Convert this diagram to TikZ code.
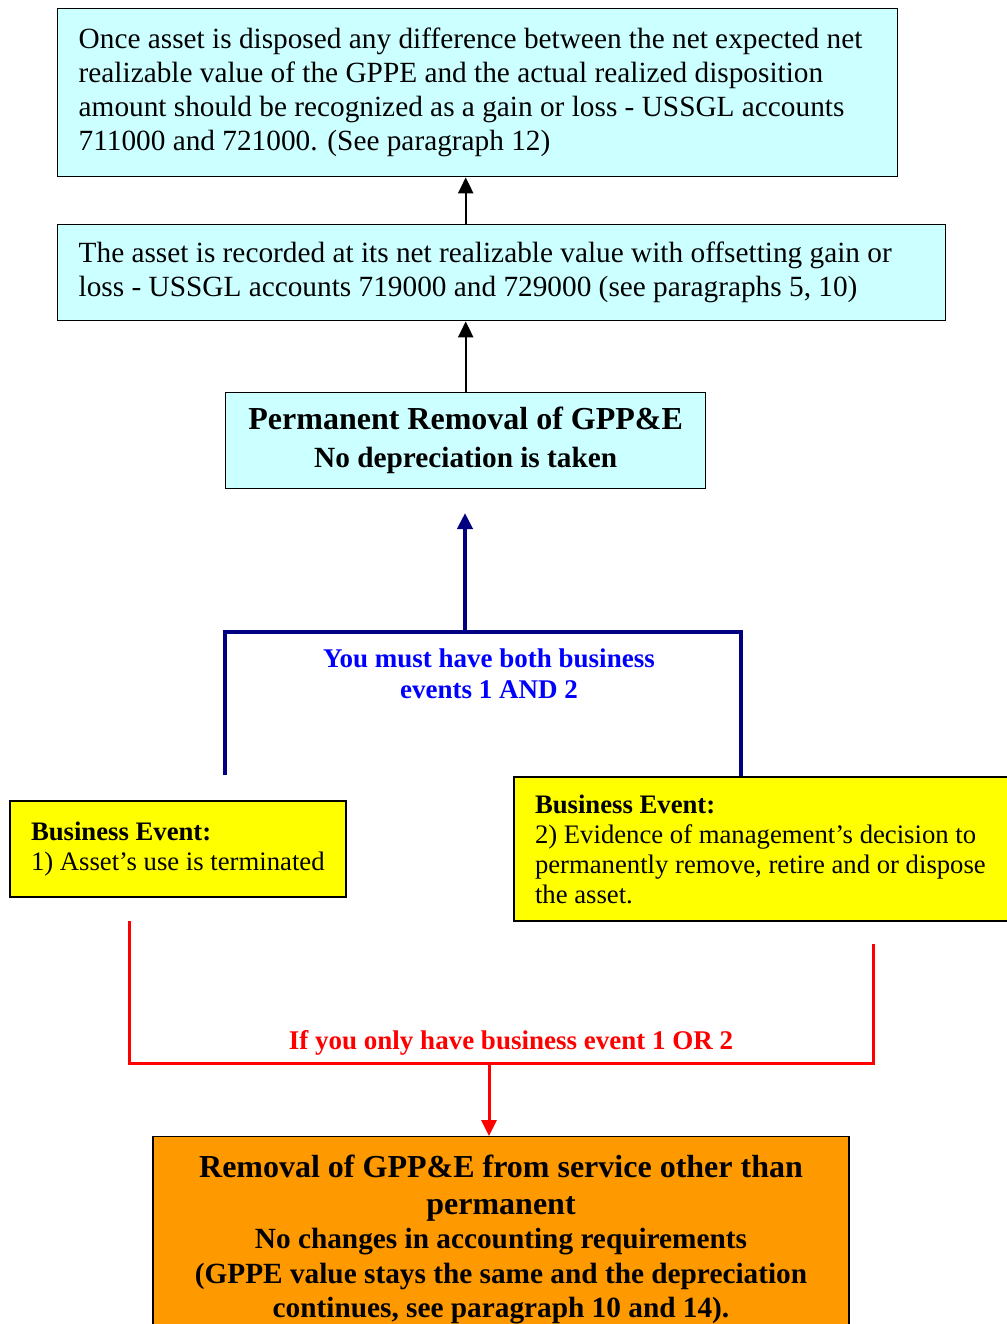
\documentclass[tikz,border=0pt]{standalone}
\usepackage{fontspec}
\setmainfont{Liberation Serif}
\usetikzlibrary{arrows.meta,calc}
\definecolor{boxcyan}{HTML}{CCFFFF}
\definecolor{evyellow}{HTML}{FFFF00}
\definecolor{remorange}{HTML}{FF9900}
\definecolor{navyline}{HTML}{000080}
\definecolor{bluetext}{HTML}{0000FF}
\definecolor{redline}{HTML}{FF0000}
\newcommand\resetsp{\spaceskip=0pt\relax\xspaceskip=0pt\relax}
\newcommand\lefttext{\raggedright\resetsp}
\newcommand\midtext{\centering\resetsp}
\begin{document}
\begin{tikzpicture}[x=1pt,y=-1pt,
  box/.style={draw=black, line width=1.4pt, rectangle, anchor=north west, inner sep=0pt},
  cyanbox/.style={box, fill=boxcyan},
  yelbox/.style={box, fill=evyellow, line width=2pt, font=\fontsize{26.7}{30}\selectfont},
  orbox/.style={box, fill=remorange},
  body/.style={font=\fontsize{29.3}{34}\selectfont},
  blackarrow/.style={line width=2.4pt, -{Triangle[length=16pt,width=15pt]}},
  navyarrow/.style={line width=4pt, draw=navyline, -{Triangle[length=16pt,width=15pt]}},
  navyline/.style={line width=4pt, draw=navyline},
  redline/.style={line width=3pt, draw=redline},
  redarrow/.style={line width=3pt, draw=redline, fill=redline, -{Triangle[length=16pt,width=15pt]}}
]
\useasboundingbox (0,0) rectangle (1006,1324);

\node[cyanbox, body, minimum width=840, minimum height=168, text width=798] (b1) at (57,8)
  {\lefttext Once asset is disposed any difference between the net expected net\\
   realizable value of the GPPE and the actual realized disposition\\
   amount should be recognized as a gain or loss - USSGL accounts\\
   711000 and 721000. (See paragraph 12)\par\vspace{12pt}};

\node[cyanbox, body, minimum width=888, minimum height=96, text width=846] (b2) at (57,224)
  {\lefttext The asset is recorded at its net realizable value with offsetting gain or\\
   loss - USSGL accounts 719000 and 729000 (see paragraphs 5, 10)\par};

\node[cyanbox, minimum width=480, minimum height=96, text width=470] (b3) at (225,392)
  {\midtext{\fontsize{32}{38}\selectfont\bfseries Permanent Removal of GPP\&E\par}
   {\fontsize{29.3}{38}\selectfont\bfseries No depreciation is taken\par}};

\node[yelbox, minimum width=336, minimum height=96, text width=294] (e1) at (9,800)
  {\lefttext\textbf{Business Event:}\\
   1) Asset’s use is terminated\par\vspace{12pt}};

\node[yelbox, minimum width=512, minimum height=144, text width=470] (e2) at (513,776)
  {\lefttext\textbf{Business Event:}\\
   2) Evidence of management’s decision to\\
   permanently remove, retire and or dispose\\
   the asset.\par};

\node[orbox, minimum width=696, text width=680, anchor=north, inner ysep=18pt] (r) at (501,1136)
  {\midtext{\fontsize{32}{37}\selectfont\bfseries Removal of GPP\&E from service other than\\ permanent\par}
   {\fontsize{29.3}{34.5}\selectfont\bfseries No changes in accounting requirements\\
   (GPPE value stays the same and the depreciation\\
   continues, see paragraph 10 and 14).\par}};

% black arrows
\draw[blackarrow] (b2.north -| b3.north) -- (b1.south -| b3.north);
\draw[blackarrow] (b3.north) -- (b3.north |- b2.south);

% navy bracket
\coordinate (nl) at (225,775);
\coordinate (nr) at (741,776);
\coordinate (ntop) at (465,632);
\coordinate (ntip) at (465,513);
\draw[navyline] (nl) -- (nl |- ntop) -- (nr |- ntop) -- (nr);
\draw[navyarrow] (ntop) -- (ntip);
\node[text=bluetext, font=\fontsize{27}{31}\selectfont\bfseries, text width=440] (nlab) at (489,674)
  {\midtext You must have both business\\ events 1 AND 2\par};

% red bracket
\coordinate (rl) at (129,921);
\coordinate (rr) at (873,944);
\coordinate (rbase) at (489,1063);
\draw[redline] (rl) -- (rl |- rbase) -- (rr |- rbase) -- (rr);
\draw[redarrow] (rbase) -- (r.north -| rbase);
\node[text=redline, font=\fontsize{27}{30}\selectfont\bfseries] (rlab) at (511,1043)
  {If you only have business event 1 OR 2};
\end{tikzpicture}
\end{document}
